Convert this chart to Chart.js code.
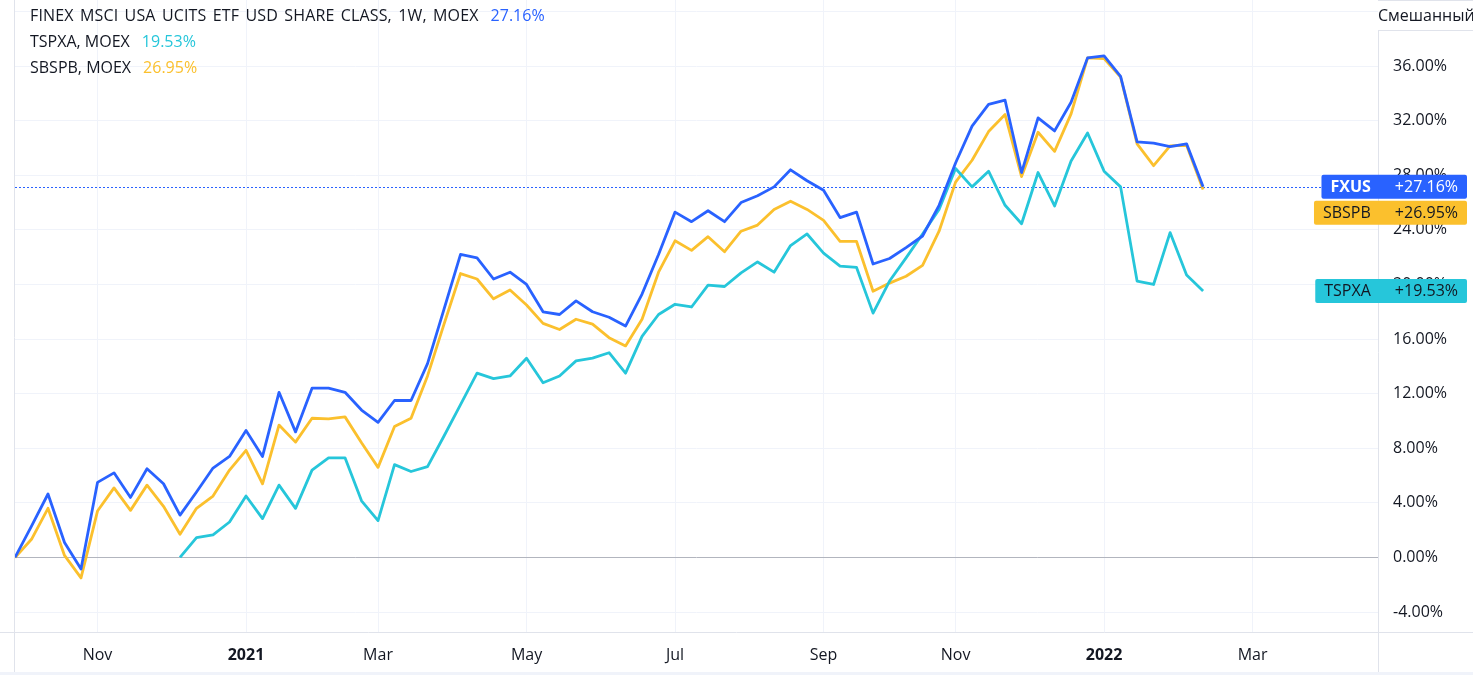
<!DOCTYPE html>
<html>
<head>
<meta charset="utf-8">
<script src="https://cdn.jsdelivr.net/npm/chart.js@4.4.1/dist/chart.umd.min.js"></script>
<style>
    html, body { margin: 0; padding: 0; background: #fff; }
    #wrap { position: relative; width: 1473px; height: 675px; overflow: hidden; }
    #legend {
        position: absolute; left: 30px; top: 2px;
        font-family: "Open Sans", sans-serif; font-size: 16px; line-height: 26px;
        color: #131722; white-space: nowrap;
    }
    #legend div:first-child { word-spacing: 2px; letter-spacing: 0.15px; }
    #legend span { margin-left: 12px; letter-spacing: 0; word-spacing: 0; }
</style>
</head>
<body>
<div id="wrap">
    <canvas id="chart" width="1473" height="675"></canvas>
    <div id="legend"></div>
</div>
<script>
// weekly % change, week 0 = end of Sep 2020
const fxus = [0, 2.3, 4.65, 1.1, -0.85, 5.5, 6.2, 4.4, 6.5, 5.4,
    3.1, 4.8, 6.55, 7.4, 9.3, 7.4, 12.1, 9.2, 12.4, 12.4,
    12.1, 10.8, 9.9, 11.5, 11.5, 14.2, 18.2, 22.2, 21.95, 20.4,
    20.9, 20.0, 18.0, 17.8, 18.8, 18.0, 17.6, 16.95, 19.3, 22.2,
    25.3, 24.6, 25.4, 24.6, 26.0, 26.5, 27.15, 28.4, 27.6, 26.9,
    24.9, 25.3, 21.5, 21.9, 22.7, 23.55, 25.8, 28.9, 31.6, 33.2,
    33.5, 28.2, 32.2, 31.25, 33.35, 36.6, 36.75, 35.25, 30.45, 30.35,
    30.1, 30.3, 27.16]

const sbspb = [0, 1.33, 3.6, 0.15, -1.5, 3.4, 5.1, 3.45, 5.3, 3.75,
    1.7, 3.6, 4.5, 6.4, 7.85, 5.4, 9.7, 8.45, 10.2, 10.15,
    10.3, 8.4, 6.6, 9.6, 10.2, 13.3, 17.1, 20.8, 20.4, 18.95,
    19.6, 18.5, 17.15, 16.7, 17.45, 17.1, 16.1, 15.5, 17.45, 20.9,
    23.2, 22.5, 23.5, 22.4, 23.9, 24.35, 25.5, 26.1, 25.5, 24.7,
    23.15, 23.15, 19.5, 20.1, 20.6, 21.4, 23.9, 27.5, 29.1, 31.2,
    32.45, 27.9, 31.15, 29.75, 32.5, 36.6, 36.55, 35.2, 30.3, 28.7,
    30.15, 30.2, 26.95]

const tspxa = [null, null, null, null, null, null, null, null, null, null,
    0, 1.45, 1.65, 2.6, 4.5, 2.85, 5.3, 3.6, 6.4, 7.3,
    7.3, 4.15, 2.7, 6.8, 6.3, 6.65, 8.9, 11.2, 13.5, 13.1,
    13.3, 14.6, 12.8, 13.3, 14.4, 14.6, 15.0, 13.5, 16.2, 17.8,
    18.55, 18.35, 19.95, 19.85, 20.85, 21.65, 20.9, 22.85, 23.7, 22.3,
    21.35, 21.25, 17.9, 20.25, 21.95, 23.7, 25.5, 28.5, 27.15, 28.3,
    25.8, 24.45, 28.2, 25.75, 29.05, 31.1, 28.3, 27.15, 20.25, 20.0,
    23.8, 20.7, 19.53]

const tickWeeks = [5, 14, 22, 31, 40, 49, 57, 66, 75]
const tickLabels = ['Nov', '2021', 'Mar', 'May', 'Jul', 'Sep', 'Nov', '2022', 'Mar']
const yTicks = [-4, 0, 4, 8, 12, 16, 20, 24, 28, 32, 36, 40]

const series = [
    { ticker: 'FXUS', name: 'FINEX MSCI USA UCITS ETF USD SHARE CLASS, 1W, MOEX', data: fxus, color: '#2962ff', text: '#ffffff' },
    { ticker: 'TSPXA', name: 'TSPXA, MOEX', data: tspxa, color: '#26c6da', text: '#131722' },
    { ticker: 'SBSPB', name: 'SBSPB, MOEX', data: sbspb, color: '#fbc02d', text: '#131722' }
]

const FONT = '"Open Sans", sans-serif'
const last = arr => arr[arr.length - 1]

// legend top-left
document.getElementById('legend').innerHTML = series.map(s =>
    `<div>${s.name}<span style="color:${s.color}">${last(s.data).toFixed(2)}%</span></div>`
).join('')

const frame = {
    id: 'frame',
    beforeDatasetsDraw(chart) {
        const { ctx, chartArea: a, scales: { y } } = chart
        const py = Math.round(y.getPixelForValue(last(fxus))) + 0.5
        ctx.save()
        ctx.strokeStyle = '#2962ff'
        ctx.lineWidth = 1
        ctx.setLineDash([2, 2])
        ctx.beginPath()
        ctx.moveTo(a.left, py)
        ctx.lineTo(a.right, py)
        ctx.stroke()
        ctx.restore()
    },
    afterDraw(chart) {
        const { ctx, chartArea: a, scales: { y }, width: W, height: H } = chart
        ctx.save()

        // borders
        ctx.strokeStyle = '#e0e3eb'
        ctx.lineWidth = 1
        ctx.beginPath()
        ctx.moveTo(0, a.bottom + 0.5); ctx.lineTo(W, a.bottom + 0.5)
        ctx.moveTo(a.left - 0.5, 0); ctx.lineTo(a.left - 0.5, H)
        ctx.moveTo(a.right + 0.5, 30); ctx.lineTo(a.right + 0.5, H)
        ctx.stroke()
        ctx.fillStyle = '#f0f3fa'
        ctx.fillRect(0, H - 3, W, 3)

        // "Смешанный" button on top of the price scale
        ctx.fillStyle = '#ffffff'
        ctx.fillRect(a.right, 0, W - a.right, 30)
        ctx.beginPath()
        ctx.moveTo(a.right, 0.5); ctx.lineTo(W, 0.5)
        ctx.moveTo(a.right, 30.5); ctx.lineTo(W, 30.5)
        ctx.stroke()
        ctx.fillStyle = '#131722'
        ctx.font = '16px ' + FONT
        ctx.textBaseline = 'middle'
        ctx.textAlign = 'left'
        ctx.fillText('Смешанный', a.right, 16)

        // last value labels
        const boxH = 24, right = 1467
        const labels = series.map(s => ({ s, v: last(s.data), cy: y.getPixelForValue(last(s.data)) }))
            .sort((p, q) => p.cy - q.cy)
        let prevBottom = -Infinity
        labels.forEach(l => {
            let top = l.cy - boxH / 2
            if (top < prevBottom + 2) top = prevBottom + 2
            prevBottom = top + boxH
            const bold = l.s.ticker === 'FXUS' ? 'bold ' : ''
            ctx.font = bold + '16px ' + FONT
            const nameW = ctx.measureText(l.s.ticker).width
            ctx.font = '16px ' + FONT
            const valTxt = '+' + l.v.toFixed(2) + '%'
            const valW = ctx.measureText(valTxt).width
            const w = 9 + nameW + 24 + valW + 9
            ctx.fillStyle = l.s.color
            ctx.beginPath()
            ctx.roundRect(right - w, top, w, boxH, 2)
            ctx.fill()
            ctx.fillStyle = l.s.text
            ctx.textAlign = 'left'
            ctx.font = bold + '16px ' + FONT
            ctx.fillText(l.s.ticker, right - w + 9, top + boxH / 2 + 1)
            ctx.font = '16px ' + FONT
            ctx.textAlign = 'right'
            ctx.fillText(valTxt, right - 9, top + boxH / 2 + 1)
        })
        ctx.restore()
    }
}

new Chart(document.getElementById('chart'), {
    type: 'line',
    data: {
        datasets: series.map(s => ({
            label: s.ticker,
            data: s.data.map((v, i) => ({ x: i, y: v })).filter(p => p.y !== null),
            borderColor: s.color,
            borderWidth: 2.8,
            pointRadius: 0,
            tension: 0,
            borderJoinStyle: 'round',
            fill: false
        }))
    },
    options: {
        responsive: false,
        animation: false,
        layout: { padding: { left: 15, top: 0, right: 0, bottom: 0 } },
        plugins: {
            legend: { display: false },
            tooltip: { enabled: false }
        },
        scales: {
            x: {
                type: 'linear',
                min: 0,
                max: 82.6,
                afterBuildTicks: scale => { scale.ticks = tickWeeks.map(v => ({ value: v })) },
                afterFit: scale => { scale.height = 43; scale.paddingLeft = 0; scale.paddingRight = 0 },
                grid: { color: '#f0f3fa', drawTicks: false },
                border: { display: false },
                ticks: {
                    padding: 14,
                    maxRotation: 0,
                    autoSkip: false,
                    color: '#131722',
                    font: ctx => ({ family: FONT, size: 16, weight: /^\d{4}$/.test(tickLabels[ctx.index]) ? 'bold' : 'normal' }),
                    callback: v => tickLabels[tickWeeks.indexOf(v)]
                }
            },
            y: {
                position: 'right',
                min: -5.46,
                max: 40.84,
                afterBuildTicks: scale => { scale.ticks = yTicks.map(v => ({ value: v })) },
                afterFit: scale => { scale.width = 95; scale.paddingTop = 0; scale.paddingBottom = 0 },
                grid: {
                    color: ctx => ctx.tick && ctx.tick.value === 0 ? '#b2b5be' : '#f0f3fa',
                    drawTicks: false
                },
                border: { display: false },
                ticks: {
                    padding: 15,
                    color: '#131722',
                    font: { family: FONT, size: 16 },
                    callback: v => v >= 40 ? '' : v.toFixed(2) + '%'
                }
            }
        }
    },
    plugins: [frame]
})
</script>
</body>
</html>
